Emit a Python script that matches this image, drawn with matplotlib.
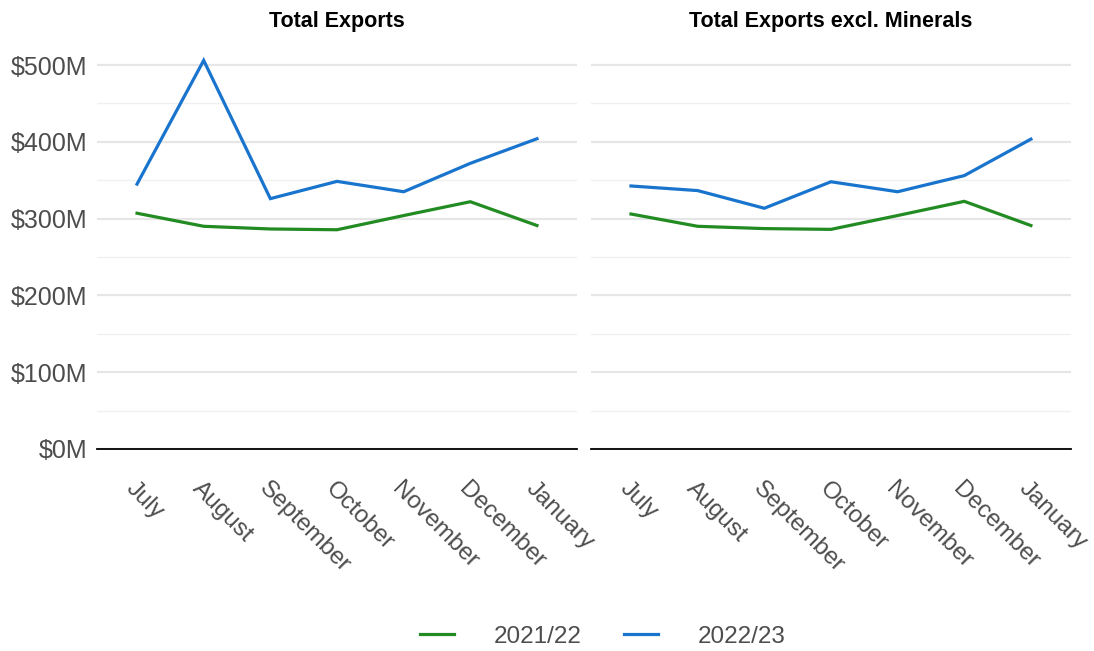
import matplotlib
matplotlib.use("Agg")
import matplotlib.pyplot as plt
from matplotlib.ticker import MultipleLocator, FuncFormatter
from matplotlib.lines import Line2D
from matplotlib.transforms import ScaledTranslation

plt.rcParams["font.family"] = ["Liberation Sans", "DejaVu Sans"]

months = ["July", "August", "September", "October", "November", "December", "January"]
series_names = ["2021/22", "2022/23"]
series_colors = ["#228b22", "#1874cd"]

panel_titles = ["Total Exports", "Total Exports excl. Minerals"]

# Monthly export values, $ millions
total_2122 = [307, 290, 286.5, 285.5, 304, 322, 291]
total_2223 = [345, 506, 326, 348.5, 335, 372, 404]
excl_2122 = [306, 290, 287, 286, 304, 322.5, 291]
excl_2223 = [342.5, 336.5, 313.5, 348, 335, 356, 403.5]

panels = [(total_2122, total_2223), (excl_2122, excl_2223)]

fig = plt.figure(figsize=(10.94, 6.51), dpi=100)
left_positions = [0.0887, 0.5402]
width = 0.4387
bottom = 0.3103
height = 0.6252

tick_color = "#4d4d4d"
x = list(range(len(months)))
label_shift = ScaledTranslation(-8 / 100, -3 / 100, fig.dpi_scale_trans)

for i, (vals_a, vals_b) in enumerate(panels):
    ax = fig.add_axes([left_positions[i], bottom, width, height])
    ax.set_xlim(-0.6, len(months) - 0.4)
    ax.set_ylim(0, 530)
    ax.yaxis.set_major_locator(MultipleLocator(100))
    ax.yaxis.set_minor_locator(MultipleLocator(50))
    ax.grid(which="major", axis="y", color="#e6e6e6", lw=1.6, zorder=0)
    ax.grid(which="minor", axis="y", color="#f0f0f0", lw=1.0, zorder=0)
    for s in ["top", "right", "left"]:
        ax.spines[s].set_visible(False)
    ax.spines["bottom"].set_color("black")
    ax.spines["bottom"].set_linewidth(1.3)
    ax.tick_params(axis="both", which="both", length=0)
    ax.yaxis.set_major_formatter(FuncFormatter(lambda v, p: f"${int(v)}M"))
    if i == 0:
        ax.tick_params(axis="y", labelsize=18, labelcolor=tick_color, pad=7)
    else:
        ax.tick_params(axis="y", labelleft=False)

    ax.plot(x, vals_a, color=series_colors[0], lw=2.3, zorder=3, solid_joinstyle="miter")
    ax.plot(x, vals_b, color=series_colors[1], lw=2.3, zorder=3, solid_joinstyle="miter")

    ax.set_xticks(x)
    ax.set_xticklabels(months, rotation=-45, rotation_mode="anchor",
                       ha="left", va="center", fontsize=17.5, color=tick_color)
    ax.tick_params(axis="x", pad=24)
    for lab in ax.get_xticklabels():
        lab.set_transform(lab.get_transform() + label_shift)
    ax.set_title(panel_titles[i], fontsize=15.5, fontweight="bold", pad=11)

handles = [Line2D([0], [0], color=c, lw=2.3) for c in series_colors]
fig.legend(handles, series_names, loc="center", bbox_to_anchor=(0.551, 0.022),
           ncol=2, frameon=False, fontsize=17.5, labelcolor=tick_color,
           handlelength=1.4, handletextpad=1.65, columnspacing=1.75)

fig.savefig("out.png", dpi=100)
